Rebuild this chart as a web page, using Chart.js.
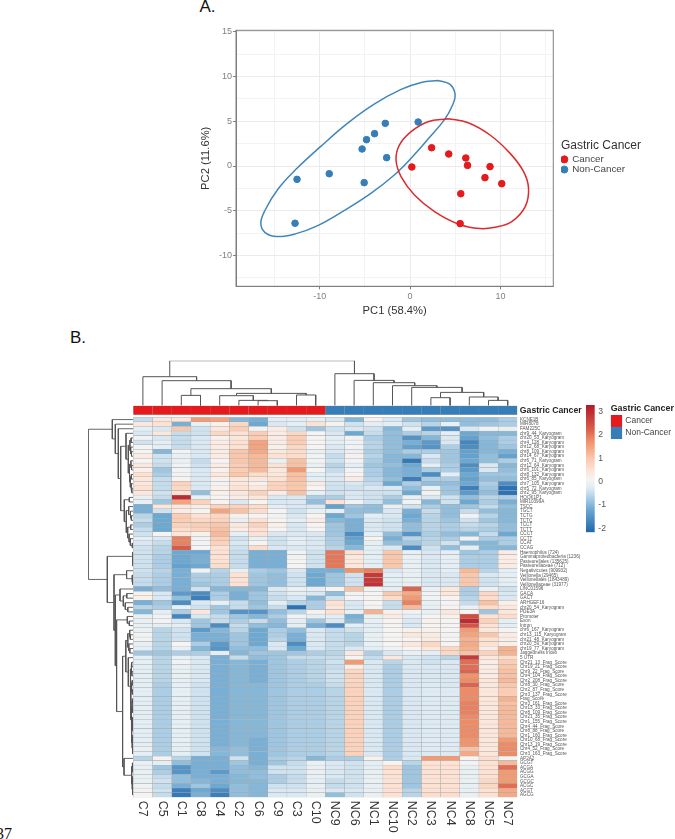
<!DOCTYPE html>
<html><head><meta charset="utf-8"><title>Gastric Cancer PCA and heatmap</title>
<script src="https://cdn.jsdelivr.net/npm/chart.js@4"></script>
<style>
html,body{margin:0;padding:0;background:#fff;width:675px;height:839px;overflow:hidden;position:relative;font-family:"Liberation Sans",sans-serif}
canvas{position:absolute;filter:blur(.3px)}
.t{position:absolute;color:#111;white-space:nowrap}
</style></head><body>
<div class="t" style="left:199.5px;top:-3px;font-size:17px;line-height:20px">A.</div>
<div class="t" style="left:70px;top:328px;font-size:17px;line-height:20px">B.</div>
<div class="t" style="left:-4px;top:825px;font-family:'Liberation Serif';font-size:16px;line-height:18px">37</div>
<canvas id="pca" style="left:180px;top:0" width="495" height="318"></canvas>
<canvas id="topTree" style="left:130px;top:358px" width="392" height="48"></canvas>
<canvas id="leftTree" style="left:85px;top:415px" width="50" height="385"></canvas>
<canvas id="annot" style="left:130px;top:403px" width="455" height="12"></canvas>
<canvas id="heat" style="left:130px;top:415px" width="455" height="424"></canvas>
<canvas id="cbar" style="left:580px;top:400px" width="30" height="140"></canvas>
<canvas id="hLegend" style="left:605px;top:403px" width="70" height="36"></canvas>
<script>
// ---------- Panel A data ----------
const cancerPC1=[0.19,2.38,4.28,6.17,6.36,8.85,8.29,10.15,5.61,5.54];
const cancerPC2=[-0.11,2.04,1.34,0.89,0.07,-0.07,-1.30,-1.97,-3.09,-6.43];
const nonCancerPC1=[0.89,-2.75,-3.94,-4.83,-5.32,-2.60,-8.96,-12.53,-5.09,-12.75];
const nonCancerPC2=[4.91,4.76,3.61,2.94,1.90,0.93,-0.86,-1.49,-1.86,-6.39];
const cancerEllipseX=[4.20,6.43,8.85,11.08,12.57,13.12,12.75,11.26,9.41,7.73,5.32,2.71,0.48,-1.00,-1.56,-1.19,0.11,1.97,4.20];
const cancerEllipseY=[5.28,4.83,3.46,1.41,-0.63,-2.49,-4.54,-6.21,-6.84,-6.99,-6.47,-5.09,-3.23,-1.19,0.67,2.34,3.83,4.94,5.28];
const nonCancerEllipseX=[3.09,4.39,4.98,4.65,3.83,2.16,0.11,-1.75,-4.35,-7.32,-10.30,-12.71,-14.76,-16.06,-16.54,-16.06,-14.57,-12.53,-9.93,-6.95,-3.98,-1.00,1.23,3.09];
const nonCancerEllipseY=[9.55,9.14,7.99,6.69,5.20,3.20,0.86,-1.00,-3.05,-4.98,-6.69,-7.58,-7.88,-7.43,-6.39,-4.91,-2.49,-0.26,2.16,4.76,6.91,8.55,9.33,9.55];

// ---------- Panel B data ----------
const columnLabels=['C7','C5','C1','C8','C4','C2','C6','C9','C3','C10','NC9','NC6','NC1','NC10','NC2','NC3','NC4','NC8','NC5','NC7'];
const columnGroups=['Cancer','Cancer','Cancer','Cancer','Cancer','Cancer','Cancer','Cancer','Cancer','Cancer','Non-Cancer','Non-Cancer','Non-Cancer','Non-Cancer','Non-Cancer','Non-Cancer','Non-Cancer','Non-Cancer','Non-Cancer','Non-Cancer'];
const rowLabels=['KCNE1B','MIR8078','FAM225C','chr9_44_Karyogram','chr20_53_Karyogram','chr4_128_Karyogram','chr12_68_Karyogram','chr8_109_Karyogram','chr14_67_Karyogram','chr6_71_Karyogram','chr12_64_Karyogram','chr6_101_Karyogram','chr8_132_Karyogram','chr6_85_Karyogram','chr7_105_Karyogram','chr5_72_Karyogram','chr2_95_Karyogram','HOOK1P1','MIR10399A','TSCC','TGCT','TCTG','TCTC','TCCT','TCTT','CCCT','CCTT','CCAT','CCAG','Haemophilus (724)','Gammaproteobacteria (1236)','Pasteurellales (135625)','Pasteurellaceae (712)','Negativicutes (909932)','Veillonella (29465)','Veillonellales (1843489)','Veillonellaceae (31977)','LINC01596','GACA','GACT','ARHGEF16','chr20_54_Karyogram','PDE3A','Promoter','Exon','Intron','chr6_167_Karyogram','chr13_115_Karyogram','chr21_48_Karyogram','chr20_59_Karyogram','chr19_77_Karyogram','Jaggedness Index','5 UTR','Chr21_13_Frag_Score','Chr19_21_Frag_Score','Chr9_22_Frag_Score','Chr4_104_Frag_Score','Chr2_208_Frag_Score','Chr8_30_Frag_Score','Chr2_87_Frag_Score','Chr3_137_Frag_Score','Frag_Score','Chr3_161_Frag_Score','Chr13_33_Frag_Score','Chr8_109_Frag_Score','Chr21_35_Frag_Score','Chr1_155_Frag_Score','Chr4_44_Frag_Score','Chr8_88_Frag_Score','Chr1_160_Frag_Score','Chr10_68_Frag_Score','Chr13_19_Frag_Score','Chr4_52_Frag_Score','Chr3_163_Frag_Score','AP2A2','GCGT','ACGA','ACGG','GCGA','GCGC','ACGC','ACGT','AGCG'];
const cancerValues=[
[-.5,.4,.4,1.6,1.5,-1,-1.1,-.2,-.2,-.1],
[.4,.5,-1.1,-.1,.2,.7,-1.2,-.3,-.2,.5],
[-.2,-.3,1,-.4,.4,.9,0,.3,-.4,-.8],
[-.3,.4,-.5,-.4,.7,.5,.9,.3,.7,.1],
[0,-.3,-.5,-.3,.2,.4,.9,.3,.9,.1],
[-.4,-.2,-.5,-.3,.3,.5,1.5,.3,.9,.1],
[.1,-.2,-.5,-.3,.3,.5,1.5,.2,.7,.1],
[.1,-1,0,-.3,.3,1,1.4,.4,.6,-.1],
[.3,-.4,-.1,-.3,.3,1,1.2,.5,.6,0],
[.1,-.4,-.1,-.5,.1,1,1.2,-.1,1.1,0],
[.4,-.5,0,-.4,.3,.9,1.2,.5,1.1,-.1],
[.2,-.8,0,-.3,.2,.9,1.2,.4,1.6,.1],
[.5,-.7,0,-.3,.4,1,.6,.4,1.1,-.2],
[.4,-.5,.1,-.3,.2,.4,.4,.5,1.1,-.2],
[.4,-.5,.8,-.3,0,.4,.2,.8,1,.3],
[.5,-.5,.7,-.3,.2,.5,.4,.8,1,.1],
[.4,-.4,.5,-.9,.2,.4,.8,.3,1.1,-.1],
[-.1,-.5,3,-.1,.1,.3,.4,-.3,-.3,-.7],
[-.1,-.8,1.5,.8,.1,-.3,.1,-.3,-.3,-.9],
[-1.1,.4,.4,.3,.8,.8,.6,-.2,-.3,-.3],
[-1.1,-.4,.3,.1,1.5,1.1,.6,.1,-.4,-.1],
[-.6,-1.2,.9,.5,.7,.2,.1,0,-.3,.1],
[-.5,-1.2,.9,.7,.8,-.1,.5,.1,-.2,.3],
[-.7,-1.2,.8,.9,1,.4,.8,.2,-.3,.1],
[-.5,-1.2,.6,.8,1.1,.3,.5,.1,-.3,.1],
[-.4,.1,.4,.2,1.2,-.2,.5,-.3,-.3,-.3],
[-.2,-.3,1.9,0,.9,-.4,-.1,-.4,-.2,-.3],
[-.3,-.5,1.9,0,.8,-.3,.1,-.4,-.2,-.3],
[-.4,-.6,2.3,.1,.5,-.4,.6,-.3,-.3,-.3],
[-.4,-.6,-1.2,-1.2,.5,-.5,-1.1,-1.1,0,-.4],
[-.4,-.7,-1.2,-1.1,.5,-.5,-1.1,-1.1,0,-.4],
[-.4,-.7,-1.2,-1.1,.5,-.5,-1.1,-1.1,.1,-.4],
[-.4,-.7,-1.3,-1.2,.6,-.5,-1.1,-1.1,.1,-.4],
[-.4,-.6,-1.1,0,-.6,-.1,-.7,-.8,-.3,-1.1],
[-.5,-.7,-1.1,-.7,-.7,.5,-.8,-.9,-.4,-1.2],
[-.5,-.7,-1.1,-.7,-.7,.5,-.8,-.9,-.4,-1.2],
[-.5,-.7,-1.1,-.8,-.7,.5,-.8,-.9,-.4,-1.2],
[-1.1,-.9,-1.1,-.4,-1,-1,-1,-.3,-.1,-.2],
[.2,-.3,-1.4,-1.6,-.7,-1.1,-.8,-.4,-.2,-.3],
[.2,-.3,-.9,-1.8,-.7,-1.1,-.8,-.5,-.3,-1],
[-1.1,-.8,-1.6,-.3,-.1,-.5,-.9,-.2,-.6,-.7],
[-.6,-.7,-.1,-.4,-.8,-.5,-.8,-.5,-2,-.7],
[-1,-.2,-.7,.4,-.8,-1.5,-1.5,-.9,-.6,.2],
[-.1,0,-1.7,-.3,-.5,-.8,-1,-.7,0,-.2],
[-.1,0,-.3,-.8,-.5,-.7,-.5,-.9,-.2,-.8],
[-.1,-.2,-.2,-.8,-1.6,-.5,-.9,-1,-.2,-1.1],
[-.1,-.6,-.4,-1.4,-1,-.6,-1.2,-.7,-.9,-.3],
[0,-.6,-.4,-1.1,-1.1,-.8,-1.2,-.7,-1.1,-.3],
[0,-.6,-.4,-1.1,-1.1,-.8,-1.2,-.6,-1.1,-.3],
[-.1,-.6,.1,-.7,-1.4,-.8,-1.2,-.3,-1.6,-.3],
[-.2,-.6,-.1,-1,-1.5,-.9,-.9,-.3,-1.2,-.3],
[-.8,-.8,-.7,-.7,-.2,-1,-.8,-.8,-.8,-.7],
[-.2,-.6,-.1,-.3,-1.1,-.5,-.9,-.8,-.5,-.5],
[-.2,-.6,0,-.3,-1.1,-1,-1.1,-.8,-.7,-.6],
[-.2,-.6,-.1,-.3,-1.1,-1,-1.1,-.8,-.7,-.6],
[-.2,-.6,-.1,-.3,-1.1,-1,-1.1,-.8,-.7,-.6],
[-.2,-.6,-.1,-.3,-1.1,-1,-1.1,-.8,-.7,-.6],
[-.2,-.6,-.1,-.3,-1.1,-1,-1.1,-.8,-.7,-.6],
[-.2,-.7,-.15,-.4,-1.1,-1,-1,-.8,-.7,-.7],
[-.2,-.7,-.15,-.4,-1.1,-1,-1,-.8,-.7,-.7],
[-.2,-.7,-.15,-.4,-1.1,-1,-1,-.8,-.7,-.7],
[-.2,-.7,-.15,-.4,-1.1,-1,-1,-.8,-.7,-.7],
[-.2,-.7,-.15,-.4,-1.1,-1,-1,-.8,-.7,-.7],
[-.2,-.7,-.15,-.4,-1.1,-1,-1,-.8,-.7,-.7],
[-.2,-.7,-.15,-.4,-1.1,-1,-1,-.8,-.7,-.7],
[-.2,-.7,-.15,-.4,-1.1,-1,-1,-.8,-.7,-.7],
[-.2,-.7,-.15,-.4,-1.1,-1,-1,-.8,-.7,-.7],
[-.2,-.7,-.15,-.4,-1.1,-1,-1,-.8,-.7,-.7],
[-.2,-.7,-.15,-.4,-1.1,-1,-1,-.8,-.7,-.7],
[-.2,-.7,-.15,-.4,-1.1,-1,-1,-.8,-.7,-.7],
[-.2,-.7,-.15,-.4,-1.1,-1,-1.1,-.8,-.7,-.7],
[-.2,-.7,-.15,-.4,-1.1,-1,-1.1,-.8,-.7,-.7],
[-.1,-.7,-.2,-.4,-1,-.9,-1.1,-.8,-.7,-.7],
[-.15,-.7,-.2,-.4,-1,-.9,-1.1,-.8,-.7,-.7],
[-.6,.15,-.6,-1.1,-1.1,-.4,-1.1,-.7,-.6,-1],
[-.1,-.2,-.9,-1.1,-1.1,-.8,-1.1,-.8,-.5,-.1],
[-.1,-.8,-1.5,-1.1,-1.1,-.9,-1,-.4,-.4,-.1],
[-.1,-.7,-1.5,-1.1,-1.4,-.9,-.9,-.4,-.4,-.1],
[-.1,-.5,-.9,-1.1,-1.1,-1,-.9,-.7,-.5,-.1],
[-.1,-.4,-.9,-1,-1.1,-1,-1,-.7,-.5,-.2],
[0,-.5,-1.1,-.8,-1.2,-.9,-1,-.4,-.4,-.1],
[0,-.4,-1.8,-1.2,-1.6,-.9,-1,-.3,-.3,-.1],
[.1,-.5,-1.9,-1.1,-1.8,-.9,-1,-.3,-.3,-.1]
];
const nonCancerValues=[
[-.3,-1,.15,-.3,-.8,-.9,-.9,-.9,-.9,-.7],
[.15,-.4,-.2,-.2,-.4,-.6,-.1,-.9,-.8,-.7],
[-.4,-.3,-.4,-1,-.2,-1.4,-1.5,-.3,0,-.1],
[-.3,-1.2,-.5,-.9,-.7,-.6,-.2,-1.2,-1,-1],
[-.2,0,-.7,-.9,-1.5,-1,-.3,-1.3,-.9,-.7],
[-.2,0,-.6,-.9,-1.1,-1.4,-.3,-1.7,-1,-.7],
[-.3,0,-.6,-.9,-1.3,-1.5,-.7,-1.6,-1,-.8],
[-.3,-.1,-.7,-.9,-.7,-.7,-.8,-1.3,-1,-1.1],
[-.5,.2,-.6,-1,-1,-.3,-.8,-1.3,-.9,-1.3],
[-.4,0,-.7,-1,-1.9,-.5,-.8,-1.2,-.9,-.7],
[-.6,-.2,-.8,-.9,-1.2,-.2,-.7,-1.6,-.3,-1],
[-.5,0,-.7,-1,-1.1,-.7,-.7,-1.4,-.3,-.9],
[-.3,.1,-.7,-1,-1.1,-1.6,-.2,-1.2,-.8,-.8],
[-.3,.3,-.6,-.9,-1.8,-.7,-.7,-1.3,-.9,-.9],
[-.4,-.3,-.5,-1.2,-.7,-.9,-.9,-1.2,-.7,-1.6],
[-.4,-.4,-.3,-.3,-.9,-.1,-.8,-1.8,-.8,-2],
[-.4,-.3,-.4,-.4,-1.2,0,-.8,-1.4,-.9,-2],
[-.7,-.3,-.4,-.7,-.1,-.3,-.4,-.9,-.6,-.7],
[.5,0,-.4,-.9,0,-1,-.4,-1.2,-.7,-1.1],
[-1.3,-.8,-.9,-.1,-.4,-.7,-.9,-.8,-.5,-.9],
[-.2,-.9,-.9,-.3,-1.1,-.5,-.9,-.5,-.9,-1],
[-1.2,-.8,-.2,-.3,-1.2,-.6,-.9,0,-.6,-1],
[-1,-1.1,-.3,-.4,-1.1,-.6,-.8,-.4,-.8,-1],
[-.8,-1.1,-.3,-.4,-.9,-.6,-.7,-.5,-.6,-.9],
[-.8,-1.1,-.3,-.4,-.9,-.6,-.7,-.6,-.7,-.9],
[-.8,-1.6,-.2,-.9,-1.5,-.7,-.9,-1,-.5,-1.2],
[-.7,-1.3,.1,-1.1,-.6,-.6,-.7,0,-.7,-.7],
[-.7,-1.2,-.2,-.9,-.8,-.6,-.4,-1,-1,-.7],
[-.6,-1,-.2,-.3,-1.6,-.4,-.9,-.2,-1,-1],
[2,.5,-.2,1,-.1,-.3,-.2,-.8,-.7,.3],
[2,.4,-.2,1,-.1,-.3,-.2,-.7,-.7,.3],
[2,.4,-.2,1,-.1,-.3,-.2,-.7,-.7,.3],
[2,.4,-.2,1,-.1,-.3,-.2,-.7,-.7,.3],
[-1.1,1.7,1.9,-.3,-.1,-.3,-.2,1.2,-.6,-.2],
[-.8,-.4,2.8,-.2,-.1,-.3,-.3,1,-.3,-.2],
[-.8,-.4,2.8,-.2,-.1,-.3,-.3,1,-.4,-.2],
[-.8,-.4,2.9,-.2,-.1,-.3,-.3,1,-.4,-.2],
[.1,1.1,0,-.2,2.2,-.1,.4,-.7,-.1,-.4],
[-.9,0,.1,1,1.4,0,.4,-.7,.7,-.3],
[-.4,.1,.1,.6,1.6,0,.1,-.6,.6,-.3],
[.5,-.3,.1,-.5,1.9,-.1,.1,-.5,1.1,.2],
[.4,-.3,0,-.5,1.2,-.1,.1,-.1,.6,.4],
[.5,-.1,1.3,.2,0,-.1,.4,.1,-.8,.4],
[-.2,-1.1,-.1,.3,-.2,.1,.2,2.5,.5,.6],
[-.3,-1,-.1,.1,-.3,.2,.1,3,.8,-.2],
[-1.6,-.2,-.2,.1,-.3,.1,.1,2.4,.5,-.2],
[-.5,-.4,-.2,.1,.2,.2,.1,1.6,.4,.1],
[-.5,-.6,-.1,.1,.4,.3,0,1.5,1,.3],
[-.5,-.6,-.1,.1,.1,.3,.1,1.3,.5,.3],
[-.5,-.6,-.1,.1,.4,.7,.1,1.4,.5,.2],
[-.5,-.3,-.2,0,.1,.4,.7,1.3,.3,1.3],
[-.6,.4,-.7,-.3,-.1,-.2,.7,1.1,.8,1.3],
[-.5,.1,-.5,.4,-.3,-.4,-.6,2.8,.4,.6],
[-.4,1.6,-.3,-.6,-.3,-.4,-.3,2.1,.3,.9],
[-.5,.3,-.3,-.7,-.3,-.3,-.3,2.1,.3,1],
[-.4,.7,-.3,-.7,-.3,-.3,-.3,2.2,.3,1.1],
[-.4,.8,-.3,-.7,-.3,-.3,-.3,1.7,.3,1.1],
[-.4,.7,-.3,-.7,-.3,-.3,-.3,1.8,.4,1.2],
[-.5,.8,-.3,-.7,-.3,-.25,-.3,2.2,.4,1],
[-.6,.8,-.3,-.7,-.3,-.25,-.25,1.8,.4,.9],
[-.6,.8,-.3,-.7,-.3,-.25,-.25,1.8,.4,.9],
[-.6,.8,-.3,-.7,-.3,-.25,-.25,1.8,.4,1.3],
[-.6,.8,-.3,-.7,-.3,-.25,-.25,1.9,.4,1.1],
[-.6,.8,-.3,-.7,-.3,-.25,-.25,1.9,.4,1.2],
[-.6,.8,-.3,-.7,-.3,-.25,-.25,1.9,.4,1.2],
[-.6,.8,-.3,-.7,-.3,-.25,-.25,1.8,.4,1.2],
[-.6,.8,-.3,-.7,-.3,-.25,-.25,1.8,.4,1.2],
[-.6,.8,-.3,-.7,-.3,-.25,-.25,1.8,.4,1.2],
[-.6,.8,-.3,-.7,-.3,-.25,-.25,1.8,.4,1.2],
[-.6,.8,-.3,-.7,-.3,-.25,-.25,1.8,.4,1.2],
[-.6,.8,-.3,-.7,-.3,-.25,-.25,1.7,.4,1.6],
[-.6,.8,-.3,-.7,-.3,-.25,-.25,1.7,.4,1.8],
[-.6,.8,-.3,-.7,-.3,-.25,-.25,1.1,.4,1.8],
[-.6,.8,-.3,-.7,-.3,-.25,-.25,1.4,.4,1.8],
[-.7,-.7,.2,-.7,-.3,1.6,1.6,.1,.6,0],
[-.3,-.4,-.2,.1,-.6,.5,.5,0,.5,1.2],
[-.3,-.4,-.2,.6,-.8,.5,.5,-.1,.5,2.1],
[-.3,-.4,-.1,.5,-.8,.5,.5,-.1,.5,1.6],
[-.3,-.4,-.1,.5,-.8,.5,.5,-.1,.5,1.6],
[-.5,-.4,-.1,.5,-.8,.5,.5,-.1,.7,1.6],
[-.5,-.4,-.1,.5,-.8,.5,.5,-.1,.7,2.1],
[-.3,-.3,-.1,.5,-.6,.5,.5,-.1,.5,1.4],
[-.9,-.4,-.1,.5,-.6,.6,.6,-.1,.5,1.4]
];
const heatStops=[-2.17,-1.2,-.5,-.2,.1,.5,1,1.7,2.3,3.29];
const heatColors=['#2166ac','#6ba8d2','#c5dcec','#e3eef5','#f6f4f3','#fde2d4','#f9c8ac','#f0946c','#d85b48','#b2182b'];
const colorbarTicks=[-2,-1,0,1,2,3];
const groupNames=['Cancer','Non-Cancer'];
const groupColors=['#e41a1c','#377eb8'];
// dendrograms: leaf = column/row index, node = [height, left, right]
const columnTree=[45,
 [29,0,[25,1,[17,[10.3,2,3],[12.3,[10,4,[5.3,5,[5,6,7]]],[10.7,8,9]]]]],
 [32,10,[25.3,11,[23,12,[20,13,[18.3,14,[13.3,[8,15,16],[8.7,17,[5.3,18,19]]]]]]]]];
const rowTree=[45,
 [21,0,[18,1,[15,2,[12.6,
   [7.3,3,[5,[3.4,[2.2,4,5],[2.6,6,[1.8,7,8]]],[3.8,[2.4,9,[1.7,10,11]],[3,[2,12,13],[2.3,14,[1.5,15,16]]]]]],
   [9,[4,17,18],[7,[4.6,19,[2.8,20,[2,21,22]]],[5.6,[2.6,23,24],[4.2,25,[3,26,[1,27,28]]]]]]
 ]]]],
 [26,[.8,29,[.6,30,[.4,31,32]]],
  [19.3,[6.7,33,[1.2,34,[.8,35,36]]],
   [18,[13.3,37,[10,[6.5,38,39],[8,40,[5.5,41,42]]]],
    [16.7,[6,43,[4,44,45]],
      [10.7,[7.5,[5.5,[3.6,46,[3,47,48]],[4.5,49,[3.5,50,51]]],
        [5,52,[3,[2.2,[1.6,53,54],[1.4,55,56]],[2.5,[1.7,[1.1,57,58],[1,59,60]],[2,[1.3,[.9,61,62],[.8,63,64]],[1.6,[1,[.7,65,66],[.7,67,68]],[1.2,[.8,69,70],[.9,71,[.6,72,73]]]]]]]]],
       [9.3,74,[1.6,[1,75,[.6,76,77]],[1.2,[.7,78,79],[.8,80,[.5,81,82]]]]]]]]]]];
</script>
<script>
Chart.defaults.animation=false;
Chart.defaults.responsive=false;
Chart.defaults.font.family='"Liberation Sans",Helvetica,Arial,sans-serif';
Chart.defaults.plugins.legend.display=false;
Chart.defaults.plugins.tooltip.enabled=false;

const zip=(a,b)=>a.map((v,i)=>({x:v,y:b[i]}));
const fitY=w=>s=>{s.width=w;s.paddingTop=0;s.paddingBottom=0;};
// PANEL A
const boxPlugin={id:'box',beforeDatasetsDraw(c){const a=c.chartArea,x=c.ctx;x.save();x.strokeStyle='#7f7f7f';x.lineWidth=1;x.strokeRect(a.left,a.top,a.width,a.height);x.restore();}};
// places the legend box beside the plot, leaving the panel's gap
const legendPlace={id:'legendPlace',beforeDraw(c){const l=c.legend,dx=381-l.left,dy=139.8-l.top;l.left+=dx;l.top+=dy;l.right=c.width;l.bottom=c.height;l.legendHitBoxes.forEach(h=>{h.left+=dx;h.top+=dy;});}};
const isMajor=v=>Math.abs(v%5)<1e-6;
new Chart(document.getElementById('pca'),{type:'scatter',plugins:[boxPlugin,legendPlace],
 data:{datasets:[
  {label:'Cancer',data:zip(cancerPC1,cancerPC2),backgroundColor:'#e41a1c',borderColor:'#e41a1c',pointRadius:3.3,pointStyle:'circle'},
  {label:'Non-Cancer',data:zip(nonCancerPC1,nonCancerPC2),backgroundColor:'#377eb8',borderColor:'#377eb8',pointRadius:3.3,pointStyle:'circle'},
  {label:'Cancer ellipse',data:zip(cancerEllipseX,cancerEllipseY),showLine:true,borderColor:'#dd2a2e',borderWidth:1.5,pointRadius:0,tension:.4,fill:false},
  {label:'Non-Cancer ellipse',data:zip(nonCancerEllipseX,nonCancerEllipseY),showLine:true,borderColor:'#4086bb',borderWidth:1.5,pointRadius:0,tension:.4,fill:false}
 ]},
 options:{layout:{padding:{top:30.3,right:47.7}},
  plugins:{legend:{display:true,position:'right',align:'start',
    title:{display:true,text:'Gastric Cancer',color:'#333',font:{size:12},padding:{top:0,bottom:0},position:'start'},
    labels:{usePointStyle:true,boxWidth:6,boxHeight:5,padding:.3,color:'#444',font:{size:9.8,lineHeight:1},filter:i=>i.datasetIndex<2}}},
  scales:{
   x:{type:'linear',min:-19.29,max:15.86,afterFit:s=>{s.height=31.7},
    title:{display:true,text:'PC1 (58.4%)',color:'#333',font:{size:11.2},padding:{top:3,bottom:0}},
    ticks:{stepSize:5,includeBounds:false,autoSkip:false,maxRotation:0,color:'#7f7f7f',font:{size:9},padding:2,callback:v=>Math.abs(v%10)<1e-6?String(v):''},
    grid:{color:c=>Math.abs(c.tick.value%10)<1e-6?'#ebebeb':'#f3f3f3',tickLength:3,tickColor:c=>Math.abs(c.tick.value%10)<1e-6?'#7f7f7f':'rgba(0,0,0,0)'},border:{color:'#7f7f7f'}},
   y:{type:'linear',min:-13.43,max:15.15,afterFit:s=>{s.width=56},
    title:{display:true,text:'PC2 (11.6%)',color:'#333',font:{size:11.2},padding:{top:19,bottom:0}},
    ticks:{stepSize:2.5,includeBounds:false,autoSkip:false,color:'#7f7f7f',font:{size:9},padding:1,callback:v=>isMajor(v)?String(v):''},
    grid:{color:c=>isMajor(c.tick.value)?'#ebebeb':'#f3f3f3',tickLength:3,tickColor:c=>isMajor(c.tick.value)?'#7f7f7f':'rgba(0,0,0,0)'},border:{color:'#7f7f7f'}}
  }}});

// PANEL B helpers
function heatColor(v){
 const s=heatStops,cs=heatColors;
 const hex=h=>[1,3,5].map(i=>parseInt(h.substr(i,2),16));
 if(v<=s[0])return cs[0]; if(v>=s[s.length-1])return cs[cs.length-1];
 let i=0; while(v>s[i+1])i++;
 const t=(v-s[i])/(s[i+1]-s[i]),a=hex(cs[i]),b=hex(cs[i+1]);
 return 'rgb('+a.map((c,k)=>Math.round(c+(b[k]-c)*t)).join(',')+')';
}
function treeSegments(root,horizontal){
 const pts=[];
 const add=(p,h)=>pts.push(horizontal?{x:p,y:h}:{x:h,y:p});
 const walk=n=>{
  if(typeof n==='number')return{p:n+.5,h:0};
  const[h,a,b]=n,A=walk(a),B=walk(b);
  add(A.p,A.h);add(A.p,h);add(B.p,h);add(B.p,B.h);pts.push({x:NaN,y:NaN});
  return{p:(A.p+B.p)/2,h};
 };
 walk(root);return pts;
}
// top dendrogram
new Chart(document.getElementById('topTree'),{type:'scatter',
 data:{datasets:[{data:treeSegments(columnTree,true),showLine:true,pointRadius:0,borderColor:'#555',borderWidth:1,spanGaps:false}]},
 options:{layout:{padding:{left:3.3,right:4.7,top:2.7,bottom:.33}},scales:{x:{type:'linear',display:false,min:0,max:20},y:{type:'linear',display:false,min:0,max:45}}}});
// left dendrogram
new Chart(document.getElementById('leftTree'),{type:'scatter',
 data:{datasets:[{data:treeSegments(rowTree,false),showLine:true,pointRadius:0,borderColor:'#555',borderWidth:.9,spanGaps:false}]},
 options:{layout:{padding:{left:3.3,right:1.7,top:2.3,bottom:2.7}},scales:{x:{type:'linear',display:false,reverse:true,min:0,max:45},y:{type:'linear',display:false,reverse:true,min:0,max:83}}}});
// annotation strip
new Chart(document.getElementById('annot'),{type:'bar',
 data:{labels:['Gastric Cancer'],datasets:columnLabels.map((n,j)=>({label:n,data:[1],backgroundColor:groupColors[groupNames.indexOf(columnGroups[j])],borderColor:'#9a9a9a',borderWidth:.3,borderSkipped:false,barPercentage:1,categoryPercentage:1}))},
 options:{indexAxis:'y',layout:{padding:{left:3.3,top:2.7,bottom:.3}},scales:{
  x:{type:'linear',stacked:true,display:false,min:0,max:20},
  y:{stacked:true,position:'right',afterFit:fitY(67.7),grid:{display:false,drawTicks:false,tickLength:0},border:{display:false},ticks:{color:'#222',padding:2.5,font:{size:8.7,weight:'bold'}}}}}});
// heatmap
const allRows=cancerValues.map((r,i)=>r.concat(nonCancerValues[i]));
const columnLabelPlugin={id:'colLabels',afterDraw(c){const x=c.ctx,s=c.scales.x;x.save();x.fillStyle='#333';x.font='12.5px "Liberation Sans"';x.textAlign='left';x.textBaseline='middle';
 columnLabels.forEach((t,j)=>{x.save();x.translate(s.getPixelForValue(j+.5),c.chartArea.bottom+3.4);x.rotate(Math.PI/2);x.fillText(t,0,0);x.restore();});x.restore();}};
new Chart(document.getElementById('heat'),{type:'bar',plugins:[columnLabelPlugin],
 data:{labels:rowLabels,datasets:columnLabels.map((n,j)=>({label:n,data:rowLabels.map(()=>1),backgroundColor:allRows.map(r=>heatColor(r[j])),borderColor:'#a8a8a8',borderWidth:.45,borderSkipped:false,barPercentage:1,categoryPercentage:1}))},
 options:{indexAxis:'y',layout:{padding:{left:3.3,top:2.3,bottom:41.7}},scales:{
  x:{type:'linear',stacked:true,display:false,min:0,max:20},
  y:{stacked:true,position:'right',afterFit:fitY(67.7),grid:{display:false,drawTicks:false,tickLength:0},border:{display:false},ticks:{autoSkip:false,color:'#555',padding:2.7,font:{size:4.6}}}}}});
// colorbar
new Chart(document.getElementById('cbar'),{type:'bar',
 data:{labels:['z'],datasets:[{data:[[heatStops[0],heatStops[heatStops.length-1]]],barPercentage:1,categoryPercentage:1,borderSkipped:false,borderWidth:0,
  backgroundColor:c=>{const a=c.chart.chartArea;if(!a)return heatColors[0];const g=c.chart.ctx.createLinearGradient(0,a.bottom,0,a.top),lo=heatStops[0],hi=heatStops[heatStops.length-1];heatStops.forEach((v,i)=>g.addColorStop((v-lo)/(hi-lo),heatColors[i]));return g;}}]},
 options:{layout:{padding:{left:6,top:5,bottom:7.7}},scales:{
  x:{display:false},
  y:{type:'linear',position:'right',min:heatStops[0],max:heatStops[heatStops.length-1],afterFit:fitY(15.3),grid:{display:false,drawTicks:false,tickLength:0},border:{display:false},
   afterBuildTicks:s=>{s.ticks=colorbarTicks.map(v=>({value:v}))},ticks:{color:'#555',padding:3.6,font:{size:8.6}}}}}});
// heatmap annotation legend
new Chart(document.getElementById('hLegend'),{type:'bar',
 data:{labels:groupNames,datasets:[{data:[1,1],backgroundColor:groupColors,borderColor:'#9db4c8',borderWidth:.4,borderSkipped:false,barPercentage:1,categoryPercentage:1}]},
 options:{indexAxis:'y',layout:{padding:{left:5.7}},plugins:{title:{display:true,text:'Gastric Cancer',align:'start',color:'#222',font:{size:8.9,weight:'bold'},padding:{top:0,bottom:1.3}}},scales:{
  x:{type:'linear',display:false,min:0,max:1},
  y:{position:'right',afterFit:fitY(52.7),grid:{display:false,drawTicks:false,tickLength:0},border:{display:false},ticks:{autoSkip:false,color:'#444',padding:3,font:{size:8.5}}}}}});
</script>
</body></html>
